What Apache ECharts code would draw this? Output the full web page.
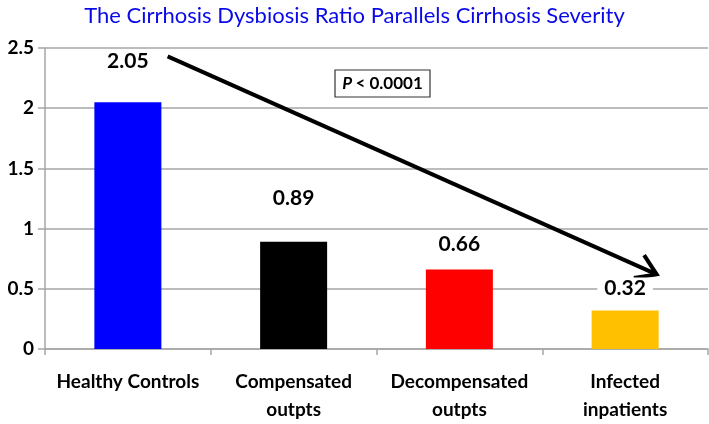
<!DOCTYPE html>
<html>
<head>
<meta charset="utf-8">
<script src="https://cdn.jsdelivr.net/npm/echarts@6/dist/echarts.min.js"></script>
<style>
html,body{margin:0;padding:0;background:#fff;}
#chart{width:709px;height:424px;}
</style>
</head>
<body>
<div id="chart"></div>
<script>
const titleText = 'The Cirrhosis Dysbiosis Ratio Parallels Cirrhosis Severity';
const categories = ['Healthy Controls', 'Compensated\noutpts', 'Decompensated\noutpts', 'Infected\ninpatients'];
const ratios = [2.05, 0.89, 0.66, 0.32];
const yTicks = { min: 0, max: 2.5, interval: 0.5 };
const pValueText = '< 0.0001';
// annotation arrow in data units (x: category index, y: ratio)
const arrowStart = [0.24, 2.43];
const arrowEnd = [3.19, 0.62];

const barColors = ['#0000ff', '#000000', '#ff0000', '#ffc000'];
const labelGaps = [30, 33, 15, 12];

const FONT = 'Lato, "Open Sans", sans-serif';
const chart = echarts.init(document.getElementById('chart'), null, { renderer: 'canvas' });

const option = {
  animation: false,
  backgroundColor: '#ffffff',
  title: {
    text: titleText,
    left: 'center',
    top: 0,
    textStyle: { color: '#0a0ae8', fontFamily: FONT, fontWeight: 'normal', fontSize: 22 }
  },
  grid: { left: 45, right: 1, top: 48, bottom: 70, containLabel: false },
  xAxis: [{
    type: 'category',
    data: categories,
    axisLine: { show: true, lineStyle: { color: '#a6a6a6', width: 1.5 } },
    axisTick: { show: true, alignWithLabel: false, length: 6, lineStyle: { color: '#a6a6a6', width: 1.5 } },
    splitLine: { show: false },
    axisLabel: { color: '#000', fontFamily: FONT, fontWeight: 'bold', fontSize: 19, lineHeight: 28, margin: 19, interval: 0 }
  }, {
    type: 'value', min: -0.5, max: 3.5, show: false,
    axisLine: { show: false }, splitLine: { show: false }, axisTick: { show: false }, axisLabel: { show: false }
  }],
  yAxis: {
    type: 'value',
    min: yTicks.min, max: yTicks.max, interval: yTicks.interval,
    axisLine: { show: true, onZero: false, lineStyle: { color: '#a6a6a6', width: 1.5 } },
    axisTick: { show: true, length: 7, lineStyle: { color: '#a6a6a6', width: 1.5 } },
    splitLine: { show: true, lineStyle: { color: '#a6a6a6', width: 1.5 } },
    axisLabel: { color: '#000', fontFamily: FONT, fontWeight: 'bold', fontSize: 19, margin: 11 }
  },
  series: [{
    type: 'bar',
    xAxisIndex: 0,
    barWidth: 67,
    data: ratios.map((v, i) => ({
      value: v,
      itemStyle: { color: barColors[i] },
      label: { distance: labelGaps[i] }
    })),
    labelLine: { show: false },
    label: {
      show: true, position: 'top',
      color: '#000', fontFamily: FONT, fontWeight: 'bold', fontSize: 21,
      backgroundColor: '#fff', padding: [0, 7],
      formatter: p => p.value.toFixed(2)
    }
  }]
};
chart.setOption(option);

function px(pt) { return chart.convertToPixel({ xAxisIndex: 1, yAxisIndex: 0 }, pt); }
const s = px(arrowStart), e = px(arrowEnd);
const dx = e[0] - s[0], dy = e[1] - s[1];
const L = Math.sqrt(dx * dx + dy * dy);
const ux = dx / L, uy = dy / L;
const headLen = 23, ang = 33 * Math.PI / 180;
function rot(x, y, a) { return [x * Math.cos(a) - y * Math.sin(a), x * Math.sin(a) + y * Math.cos(a)]; }
const b1 = rot(-ux, -uy, ang), b2 = rot(-ux, -uy, -ang);

chart.setOption({
  graphic: [
    {
      type: 'polyline',
      shape: { points: [s, e] },
      style: { stroke: '#000', lineWidth: 4, fill: null }
    },
    {
      type: 'polyline',
      shape: { points: [[e[0] + b1[0] * headLen, e[1] + b1[1] * headLen], e, [e[0] + b2[0] * headLen, e[1] + b2[1] * headLen]] },
      style: { stroke: '#000', lineWidth: 4, fill: null, lineJoin: 'miter' }
    },
    {
      type: 'rect',
      shape: { x: 335, y: 70, width: 95, height: 27 },
      style: { fill: '#fff', stroke: '#333', lineWidth: 1.2 }
    },
    {
      type: 'text',
      x: 382.5, y: 83.5,
      style: {
        text: '{i|P} {n|' + pValueText + '}',
        align: 'center', verticalAlign: 'middle',
        rich: {
          i: { fontFamily: FONT, fontStyle: 'italic', fontWeight: 'bold', fontSize: 17, fill: '#000' },
          n: { fontFamily: FONT, fontWeight: 'bold', fontSize: 17, fill: '#000' }
        }
      }
    }
  ]
});
</script>
</body>
</html>
